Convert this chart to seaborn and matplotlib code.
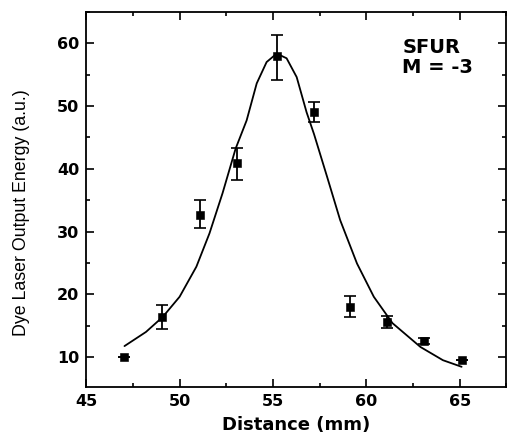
import pandas as pd
import matplotlib
matplotlib.use("Agg")
import matplotlib.pyplot as plt
import seaborn as sns
from matplotlib.ticker import MultipleLocator

# measured points
distance = [47.0, 49.05, 51.1, 53.05, 55.2, 57.2, 59.1, 61.1, 63.1, 65.1]
energy = [10.0, 16.4, 32.6, 40.9, 57.9, 49.0, 17.9, 15.6, 12.6, 9.5]
err_low = [0.0, 1.9, 2.1, 2.7, 3.8, 1.6, 1.5, 1.0, 0.5, 0.0]
err_high = [0.0, 1.9, 2.4, 2.4, 3.4, 1.6, 1.8, 0.9, 0.5, 0.0]

# fitted curve
fit_x = [47.05, 48.2, 49.1, 50.0, 50.9, 51.6, 52.3, 53.0, 53.59, 54.13, 54.66,
         55.2, 55.73, 56.27, 56.8, 57.2, 57.9, 58.6, 59.5, 60.4, 61.4, 62.9,
         64.1, 65.1]
fit_y = [11.75, 14.0, 16.4, 19.6, 24.4, 29.7, 36.1, 43.2, 47.7, 53.6, 57.0,
         58.35, 57.6, 54.6, 49.0, 45.5, 38.7, 31.8, 24.9, 19.6, 15.4, 11.6,
         9.5, 8.45]

pts = pd.DataFrame({"Distance": distance, "Energy": energy})
fit = pd.DataFrame({"Distance": fit_x, "Energy": fit_y})

sns.set_style("ticks")
plt.rcParams["font.family"] = ["DejaVu Sans"]
plt.rcParams["text.color"] = "black"
plt.rcParams["axes.labelcolor"] = "black"

fig = plt.figure(figsize=(5.1, 4.38), dpi=100)
ax = fig.add_axes([0.169, 0.116, 0.824, 0.857])

sns.lineplot(data=fit, x="Distance", y="Energy", color="black", lw=1.3, ax=ax,
             sort=False)
ax.errorbar(distance, energy, yerr=[err_low, err_high], fmt="none",
            ecolor="black", elinewidth=1.3, capsize=4, capthick=1.2)
sns.scatterplot(data=pts, x="Distance", y="Energy", marker="s", s=28,
                color="black", edgecolor="black", ax=ax, zorder=5)

ax.set_xlim(45, 67.5)
ax.set_ylim(5.2, 65)
ax.xaxis.set_major_locator(MultipleLocator(5))
ax.xaxis.set_minor_locator(MultipleLocator(2.5))
ax.yaxis.set_major_locator(MultipleLocator(10))
ax.yaxis.set_minor_locator(MultipleLocator(5))
ax.set_yticks([10, 20, 30, 40, 50, 60])

for s in ax.spines.values():
    s.set_visible(True)
    s.set_linewidth(1.3)
    s.set_color("black")

ax.tick_params(which="both", top=True, right=True, direction="in",
               width=1.2, labelsize=11.5, colors="black", pad=5)
ax.tick_params(which="major", length=6)
ax.tick_params(which="minor", length=3)
for lab in ax.get_xticklabels() + ax.get_yticklabels():
    lab.set_fontweight("bold")

ax.set_xlabel("Distance (mm)", fontsize=13, fontweight="bold", labelpad=5,
              color="black")
ax.set_ylabel("Dye Laser Output Energy (a.u.)", fontsize=12.8, color="black",
              family=["Liberation Sans", "DejaVu Sans"])
ax.yaxis.set_label_coords(-0.133, 0.465)

ax.text(0.752, 0.93, "SFUR\nM = -3", transform=ax.transAxes, fontsize=14,
        fontweight="bold", va="top", ha="left", multialignment="left",
        linespacing=1.05, color="black")

fig.savefig("out.png", dpi=100)
